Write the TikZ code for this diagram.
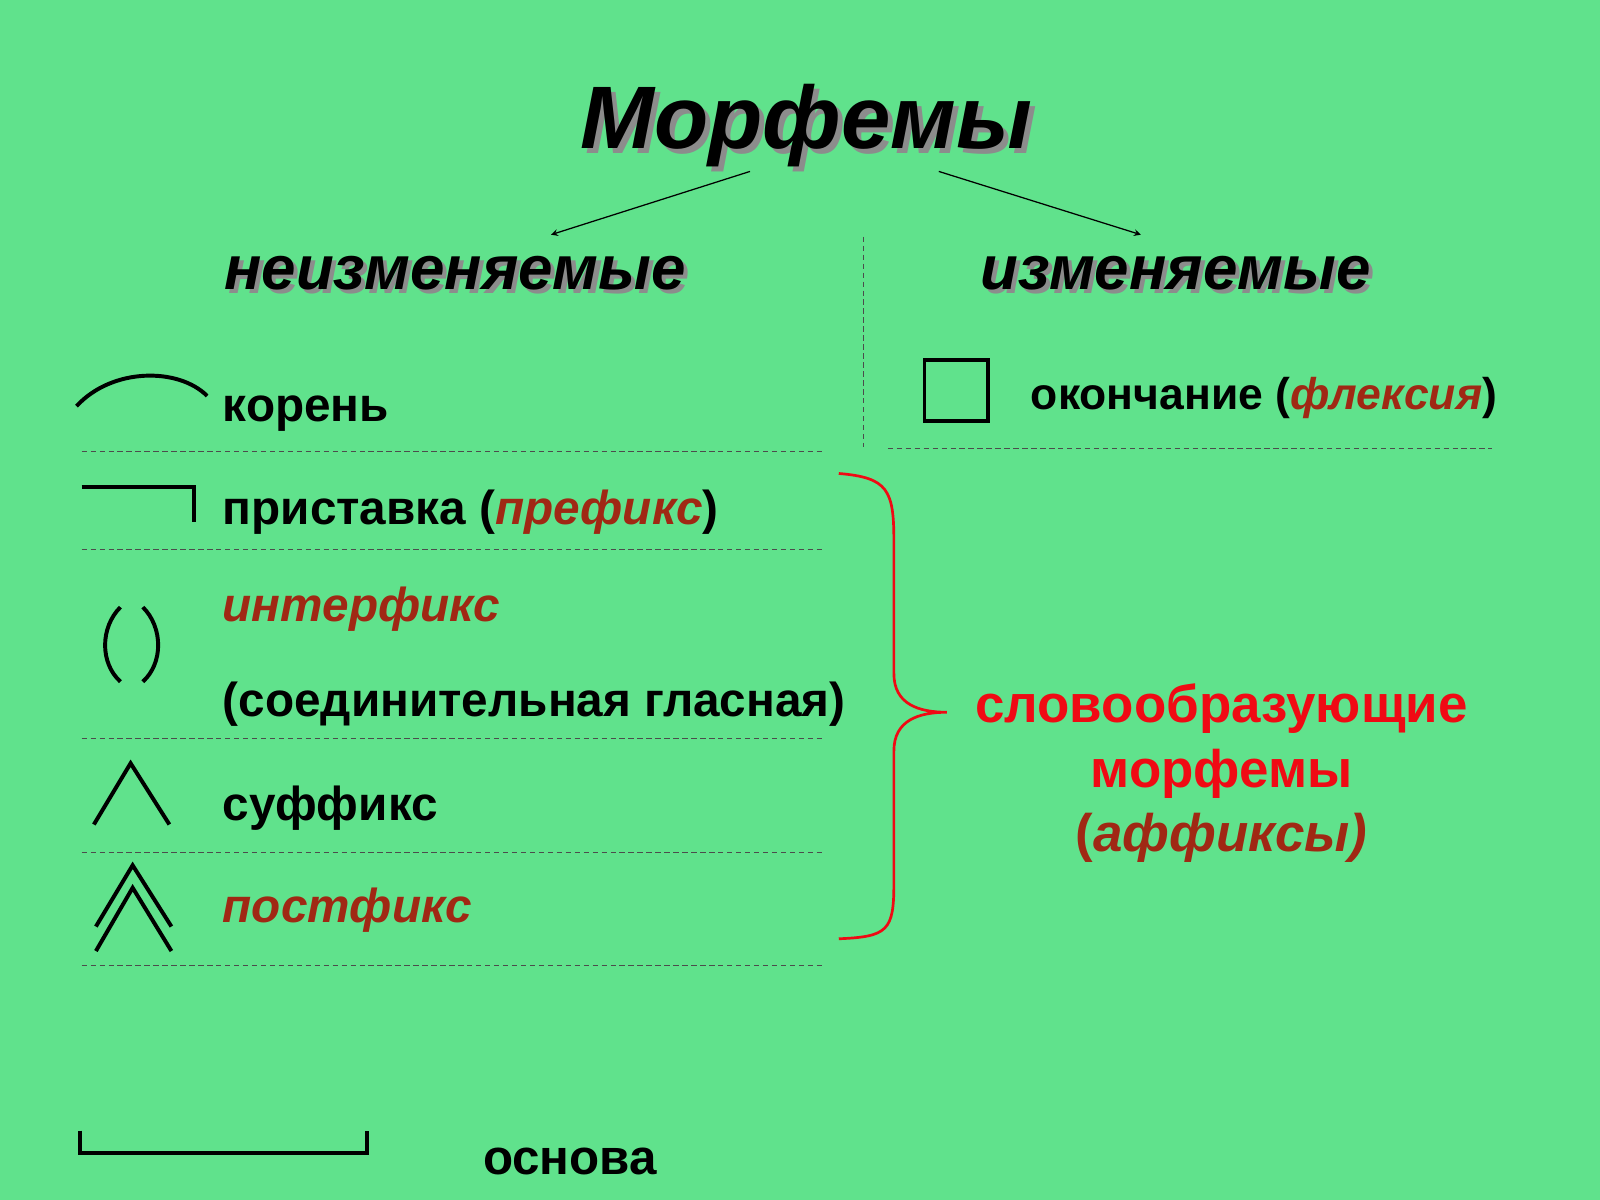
\documentclass[tikz,border=0pt]{standalone}
\usepackage{fontspec}
\setmainfont{Liberation Sans}
\definecolor{bg}{RGB}{96,226,140}
\definecolor{brn}{RGB}{160,40,20}
\definecolor{rd}{RGB}{240,10,20}
\begin{document}
\begin{tikzpicture}[x=0.02cm,y=-0.02cm,
  lbl/.style={anchor=west,font=\fontsize{26.6}{30}\selectfont\bfseries,inner sep=0},
  head/.style={font=\fontsize{34.5}{40}\selectfont\bfseries\itshape,inner sep=0},
  sep/.style={densely dashed,line width=0.4pt,black!70},
  sym/.style={line width=2.2pt},
  arr/.style={-stealth,line width=0.7pt}]
\fill[bg] (0,0) rectangle (1568,1176);
\useasboundingbox (0,0) rectangle (1568,1176);
% title
\node[head,font=\fontsize{49.5}{56}\selectfont\bfseries\itshape,text=black!45] at (795,128) {Морфемы};
\node[head,font=\fontsize{49.5}{56}\selectfont\bfseries\itshape] (t) at (790,123) {Морфемы};
\node[head,text=black!45] at (450,272) {неизменяемые};
\node[head] (n) at (446,268) {неизменяемые};
\node[head,text=black!45] at (1156,272) {изменяемые};
\node[head] (i) at (1152,268) {изменяемые};
\coordinate (a1) at (735,168); \coordinate (a2) at (540,230);
\coordinate (b1) at (920,168); \coordinate (b2) at (1118,230);
\draw[arr] (a1) -- (a2);
\draw[arr] (b1) -- (b2);
\draw[sep] (846,232) -- (846,438);
% rows
\node[lbl] (k) at (218,405) {корень};
\node[lbl] (p) at (218,502) {приставка (\textcolor{brn}{\itshape префикс})};
\node[lbl,text=brn,font=\fontsize{26.6}{30}\selectfont\bfseries\itshape] (in) at (218,597) {интерфикс};
\node[lbl] (sg) at (218,690) {(соединительная гласная)};
\node[lbl] (s) at (218,792) {суффикс};
\node[lbl,text=brn,font=\fontsize{26.6}{30}\selectfont\bfseries\itshape] (pf) at (218,892) {постфикс};
\node[lbl,font=\fontsize{24.8}{28}\selectfont\bfseries] (o) at (1010,390) {окончание (\textcolor{brn}{\itshape флексия})};
\node[lbl,font=\fontsize{27.5}{30}\selectfont\bfseries] (os) at (473,1138) {основа};
\foreach \y in {442,538,724,835,946} \draw[sep] (80,\y) -- (808,\y);
\draw[sep] (870,439) -- (1462,439);
% symbols
\draw[sym] (75,398) .. controls (110,360) and (175,360) .. (203,388);
\draw[sym] (80,477) -- (190,477) -- (190,512);
\draw[sym] (118,595) .. controls (98,615) and (98,650) .. (118,668);
\draw[sym] (140,595) .. controls (160,615) and (160,650) .. (140,668);
\draw[sym] (92,808) -- (128,748) -- (166,808);
\draw[sym] (94,908) -- (130,848) -- (168,908);
\draw[sym] (94,932) -- (130,870) -- (168,932);
\draw[sym] (906,353) rectangle (968,413);
\draw[sym] (78,1108) -- (78,1130) -- (360,1130) -- (360,1108);
% brace
\draw[rd,line width=1.5pt] (822,464) .. controls (870,468) and (876,480) .. (876,530)
  -- (876,660) .. controls (876,690) and (900,698) .. (928,698)
  .. controls (900,698) and (876,706) .. (876,736) -- (876,866)
  .. controls (876,912) and (870,918) .. (822,920);
\node[align=center,inner sep=0,font=\fontsize{29.5}{36}\selectfont\bfseries,text=rd] (w) at (1197,758)
  {словообразующие\\морфемы\\\textcolor{brn}{(\itshape аффиксы)}};
\end{tikzpicture}
\end{document}
